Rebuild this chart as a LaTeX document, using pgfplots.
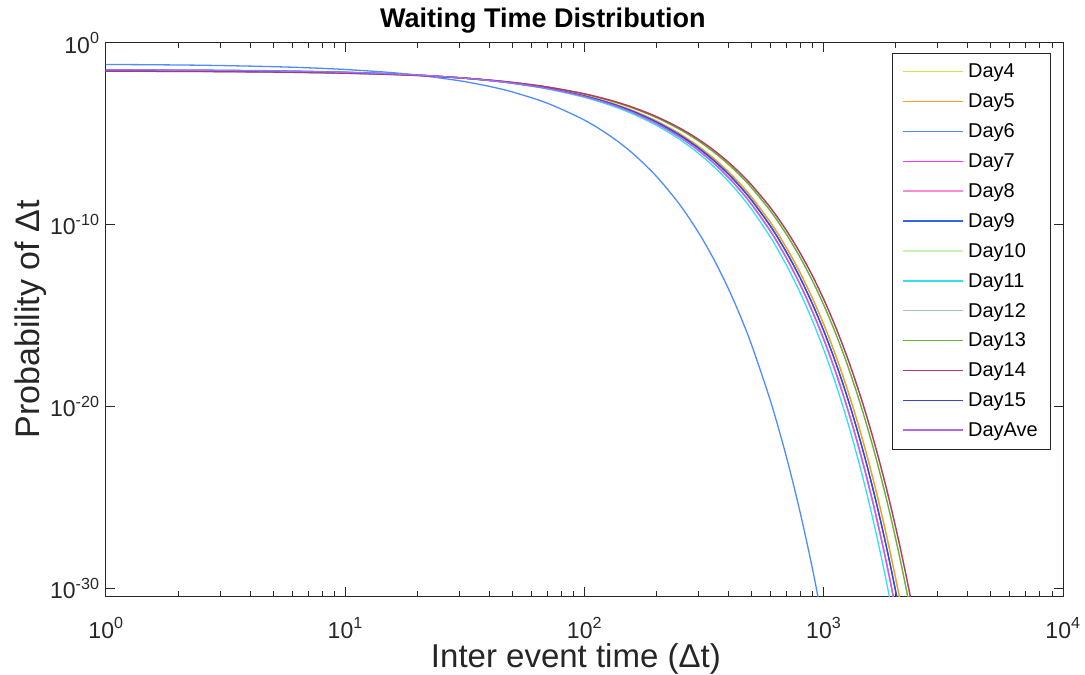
\documentclass[border=0pt]{standalone}
\usepackage{fontspec}
\setmainfont{Liberation Sans}
\usepackage{pgfplots}
\usepackage{pgfplotstable}
\pgfplotsset{compat=1.18}
\definecolor{axisgray}{rgb}{0.15,0.15,0.15}
\definecolor{dayA}{rgb}{0.83,0.89,0.25}
\definecolor{dayB}{rgb}{0.96,0.62,0.13}
\definecolor{dayC}{rgb}{0.30,0.55,1.00}
\definecolor{dayD}{rgb}{1.00,0.20,1.00}
\definecolor{dayE}{rgb}{1.00,0.55,0.85}
\definecolor{dayF}{rgb}{0.20,0.40,0.90}
\definecolor{dayG}{rgb}{0.80,0.95,0.70}
\definecolor{dayH}{rgb}{0.20,0.88,0.95}
\definecolor{dayI}{rgb}{0.65,0.77,0.72}
\definecolor{dayJ}{rgb}{0.40,0.70,0.20}
\definecolor{dayK}{rgb}{0.75,0.20,0.38}
\definecolor{dayL}{rgb}{0.20,0.27,0.87}
\definecolor{dayM}{rgb}{0.70,0.40,0.95}
% log10 of probability
\pgfplotstableread{
t    c6      c11     c7      c9      c5      c13     c14
1    -1.178  -1.465  -1.481  -1.495  -1.506  -1.541  -1.551
2    -1.209  -1.481  -1.496  -1.510  -1.520  -1.553  -1.564
3    -1.240  -1.496  -1.511  -1.524  -1.534  -1.566  -1.576
5    -1.302  -1.527  -1.541  -1.553  -1.562  -1.592  -1.601
7    -1.364  -1.558  -1.570  -1.581  -1.590  -1.618  -1.627
10   -1.457  -1.604  -1.615  -1.624  -1.632  -1.657  -1.664
15   -1.611  -1.681  -1.689  -1.696  -1.702  -1.721  -1.727
20   -1.766  -1.758  -1.763  -1.768  -1.772  -1.785  -1.790
30   -2.076  -1.912  -1.912  -1.911  -1.912  -1.914  -1.916
40   -2.386  -2.067  -2.060  -2.055  -2.052  -2.043  -2.041
50   -2.695  -2.221  -2.208  -2.199  -2.192  -2.172  -2.167
70   -3.315  -2.529  -2.505  -2.486  -2.471  -2.430  -2.418
100  -4.244  -2.992  -2.950  -2.916  -2.891  -2.816  -2.795
130  -5.173  -3.454  -3.395  -3.347  -3.311  -3.203  -3.172
160  -6.102  -3.917  -3.840  -3.777  -3.731  -3.590  -3.549
200  -7.340  -4.533  -4.434  -4.352  -4.291  -4.105  -4.051
250  -8.888  -5.304  -5.176  -5.069  -4.990  -4.749  -4.680
300  -10.437 -6.075  -5.917  -5.787  -5.690  -5.394  -5.308
350  -11.985 -6.846  -6.659  -6.505  -6.389  -6.038  -5.936
400  -13.533 -7.617  -7.401  -7.222  -7.089  -6.682  -6.564
450  -15.082 -8.388  -8.143  -7.940  -7.789  -7.327  -7.193
500  -16.630 -9.159  -8.885  -8.658  -8.488  -7.971  -7.821
600  -19.727 -10.701 -10.368 -10.093 -9.888  -9.259  -9.077
700  -22.823 -12.243 -11.852 -11.529 -11.287 -10.548 -10.333
800  -25.920 -13.784 -13.336 -12.964 -12.686 -11.837 -11.590
900  -29.016 -15.326 -14.819 -14.400 -14.086 -13.125 -12.846
1000 -32.113 -16.868 -16.303 -15.835 -15.485 -14.414 -14.103
1100 nan     -18.410 -17.786 -17.270 -16.884 -15.702 -15.359
1200 nan     -19.952 -19.270 -18.706 -18.284 -16.991 -16.615
1300 nan     -21.493 -20.753 -20.141 -19.683 -18.280 -17.872
1400 nan     -23.035 -22.237 -21.577 -21.082 -19.568 -19.128
1500 nan     -24.577 -23.721 -23.012 -22.482 -20.857 -20.385
1600 nan     -26.119 -25.204 -24.447 -23.881 -22.145 -21.641
1700 nan     -27.661 -26.688 -25.883 -25.280 -23.434 -22.897
1800 nan     -29.202 -28.171 -27.318 -26.679 -24.723 -24.154
1900 nan     -30.744 -29.655 -28.754 -28.079 -26.011 -25.410
2000 nan     -32.286 -31.139 -30.189 -29.478 -27.300 -26.667
2100 nan     nan     -32.622 -31.624 -30.877 -28.589 -27.923
2200 nan     nan     nan     nan     -32.277 -29.877 -29.179
2300 nan     nan     nan     nan     nan     -31.166 -30.436
2400 nan     nan     nan     nan     nan     -32.454 -31.692
}\wtdata
\begin{document}
\begin{tikzpicture}
\begin{axis}[
  at={(0pt,0pt)}, anchor=south west,
  scale only axis, width=957pt, height=553pt,
  xmode=log, xmin=1, xmax=10000,
  ymin=-30.42, ymax=0,
  xtick={1,10,100,1000,10000},
  xticklabels={10\textsuperscript{0},10\textsuperscript{1},10\textsuperscript{2},10\textsuperscript{3},10\textsuperscript{4}},
  minor xtick={2,3,4,5,6,7,8,9,20,30,40,50,60,70,80,90,200,300,400,500,600,700,800,900,2000,3000,4000,5000,6000,7000,8000,9000},
  ytick={-30,-20,-10,0},
  yticklabels={10\textsuperscript{-30},10\textsuperscript{-20},10\textsuperscript{-10},10\textsuperscript{0}},
  tick align=inside,
  major tick length=9pt, minor tick length=5pt,
  axis line style={draw=axisgray, line width=1pt},
  tick style={draw=axisgray, line width=1pt},
  ticklabel style={font=\fontsize{23}{26}\selectfont, text=axisgray},
  xticklabel style={anchor=base, yshift=-42pt},
  yticklabel style={anchor=east, xshift=-3pt},
  title={Waiting Time Distribution},
  title style={at={(0.4566,1)}, anchor=base, yshift=9pt, font=\bfseries\fontsize{27}{32}\selectfont},
  xlabel={Inter event time (Δt)},
  xlabel style={at={(0.491,0)}, anchor=base, yshift=-71pt, font=\fontsize{33}{38}\selectfont, text=axisgray},
  ylabel={Probability of Δt},
  ylabel style={at={(-0.069,0.5)}, anchor=base, font=\fontsize{34}{38}\selectfont, text=axisgray},
  legend cell align=left,
  legend style={at={(0.9864,0.982)}, anchor=north east, draw=axisgray, fill=white,
    font=\fontsize{20}{24}\selectfont, inner xsep=10pt, inner ysep=9pt, row sep=10.5pt, column sep=3pt},
  legend image post style={xscale=3.5},
]
\addplot[dayA, line width=1.3pt, smooth] table[x=t, y=c5]  {\wtdata}; \addlegendentry{Day4}
\addplot[dayB, line width=1.3pt, smooth] table[x=t, y=c5]  {\wtdata}; \addlegendentry{Day5}
\addplot[dayC, line width=1.3pt, smooth] table[x=t, y=c6]  {\wtdata}; \addlegendentry{Day6}
\addplot[dayD, line width=1.3pt, smooth] table[x=t, y=c7]  {\wtdata}; \addlegendentry{Day7}
\addplot[dayE, line width=1.3pt, smooth] table[x=t, y=c7]  {\wtdata}; \addlegendentry{Day8}
\addplot[dayF, line width=1.3pt, smooth] table[x=t, y=c9]  {\wtdata}; \addlegendentry{Day9}
\addplot[dayG, line width=1.3pt, smooth] table[x=t, y=c13] {\wtdata}; \addlegendentry{Day10}
\addplot[dayH, line width=1.3pt, smooth] table[x=t, y=c11] {\wtdata}; \addlegendentry{Day11}
\addplot[dayI, line width=1.3pt, smooth] table[x=t, y=c14] {\wtdata}; \addlegendentry{Day12}
\addplot[dayJ, line width=1.3pt, smooth] table[x=t, y=c13] {\wtdata}; \addlegendentry{Day13}
\addplot[dayK, line width=1.3pt, smooth] table[x=t, y=c14] {\wtdata}; \addlegendentry{Day14}
\addplot[dayL, line width=1.3pt, smooth] table[x=t, y=c9]  {\wtdata}; \addlegendentry{Day15}
\addplot[dayM, line width=1.3pt, smooth] table[x=t, y=c7]  {\wtdata}; \addlegendentry{DayAve}
\end{axis}
\pgfresetboundingbox
\path[use as bounding box] (-106pt,-79pt) rectangle (979pt,596pt);
\end{tikzpicture}
\end{document}
